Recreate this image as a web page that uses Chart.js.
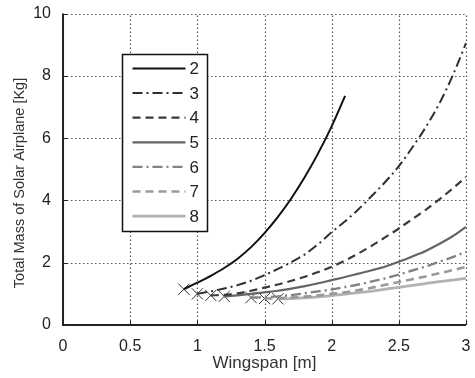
<!DOCTYPE html>
<html>
<head>
<meta charset="utf-8">
<script src="https://cdn.jsdelivr.net/npm/chart.js@4"></script>
<style>
  html, body { margin: 0; padding: 0; background: #fff; }
  #chart { display: block; }
</style>
</head>
<body>
<canvas id="chart" width="475" height="378"></canvas>
<script>
// --- Data ---
const span = [0.9, 1.0, 1.1, 1.2, 1.3, 1.4, 1.5, 1.6, 1.7, 1.8, 1.9, 2.0, 2.1, 2.2, 2.3, 2.4, 2.5, 2.6, 2.7, 2.8, 2.9, 3.0];
const seriesNames = ['2', '3', '4', '5', '6', '7', '8'];

const mass2 = [1.15, 1.36, 1.58, 1.83, 2.13, 2.5, 2.95, 3.47, 4.07, 4.75, 5.52, 6.38, 7.36, null, null, null, null, null, null, null, null, null];
const mass3 = [null, 1.0, 1.08, 1.17, 1.28, 1.42, 1.6, 1.8, 2.02, 2.27, 2.6, 2.98, 3.33, 3.72, 4.15, 4.6, 5.1, 5.7, 6.35, 7.1, 8.0, 9.05];
const mass4 = [null, null, 0.95, 0.97, 1.02, 1.1, 1.2, 1.3, 1.42, 1.55, 1.7, 1.87, 2.07, 2.3, 2.55, 2.82, 3.1, 3.4, 3.7, 4.03, 4.38, 4.75];
const mass5 = [null, null, null, 0.92, 0.95, 1.0, 1.05, 1.1, 1.17, 1.25, 1.34, 1.44, 1.54, 1.65, 1.76, 1.88, 2.03, 2.2, 2.38, 2.6, 2.85, 3.15];
const mass6 = [null, null, null, null, null, 0.88, 0.89, 0.92, 0.96, 1.02, 1.08, 1.14, 1.22, 1.3, 1.4, 1.5, 1.62, 1.75, 1.88, 2.03, 2.18, 2.35];
const mass7 = [null, null, null, null, null, null, 0.85, 0.86, 0.88, 0.91, 0.95, 1.0, 1.05, 1.12, 1.2, 1.29, 1.38, 1.47, 1.56, 1.66, 1.76, 1.87];
const mass8 = [null, null, null, null, null, null, null, 0.84, 0.85, 0.87, 0.9, 0.94, 0.99, 1.04, 1.09, 1.15, 1.21, 1.27, 1.33, 1.39, 1.44, 1.5];

const xTicks = [0, 0.5, 1, 1.5, 2, 2.5, 3];
const yTicks = [0, 2, 4, 6, 8, 10];

// --- Styles ---
const allMass = [mass2, mass3, mass4, mass5, mass6, mass7, mass8];
const lineColors = ['#111111', '#303030', '#3a3a3a', '#656565', '#828282', '#9a9a9a', '#b2b2b2'];
const lineDashes = [[], [10, 4, 2, 4], [8, 5], [], [10, 4, 2, 4], [8, 5], []];
const lineWidths = [2, 2, 2.2, 2.2, 2.4, 2.6, 2.8];

const FONT = 'Liberation Sans, Arial, sans-serif';

function toPoints(values) {
    const pts = [];
    values.forEach((v, i) => {
        if (v !== null) pts.push({ x: span[i], y: v });
    });
    return pts;
}

const datasets = allMass.map((values, i) => ({
    label: seriesNames[i],
    data: toPoints(values),
    borderColor: lineColors[i],
    borderWidth: lineWidths[i],
    borderDash: lineDashes[i],
    pointRadius: 0,
    cubicInterpolationMode: 'monotone',
    fill: false
}));

// X marks at the first point of each curve
datasets.push({
    label: 'start',
    type: 'scatter',
    data: allMass.map(values => toPoints(values)[0]),
    pointStyle: 'crossRot',
    pointRadius: 8,
    borderColor: '#333',
    borderWidth: 1,
    showLine: false
});

// dotted grid, drawn under the curves
const dottedGrid = {
    id: 'dottedGrid',
    beforeDatasetsDraw(chart) {
        const { ctx, chartArea, scales } = chart;
        ctx.save();
        ctx.strokeStyle = '#555';
        ctx.lineWidth = 1.2;
        ctx.setLineDash([1.5, 2.5]);
        xTicks.forEach(v => {
            const px = Math.round(scales.x.getPixelForValue(v)) + 0.5;
            ctx.beginPath();
            ctx.moveTo(px, chartArea.bottom);
            ctx.lineTo(px, chartArea.top);
            ctx.stroke();
        });
        yTicks.forEach(v => {
            const py = Math.round(scales.y.getPixelForValue(v)) + 0.5;
            ctx.beginPath();
            ctx.moveTo(chartArea.left, py);
            ctx.lineTo(chartArea.right, py);
            ctx.stroke();
        });
        ctx.restore();
    }
};

// --- Legend box drawn inside the plot, MATLAB style ---
const boxLegend = {
    id: 'boxLegend',
    afterDatasetsDraw(chart) {
        const ctx = chart.ctx;
        const left = 122.5, top = 54.5, w = 85, h = 177;
        ctx.save();
        ctx.fillStyle = '#fff';
        ctx.fillRect(left, top, w, h);
        ctx.strokeStyle = '#111';
        ctx.lineWidth = 1.5;
        ctx.strokeRect(left, top, w, h);
        ctx.font = '17px ' + FONT;
        ctx.textBaseline = 'middle';
        seriesNames.forEach((name, i) => {
            const y = top + 14 + i * 24.6;
            ctx.beginPath();
            ctx.setLineDash(lineDashes[i]);
            ctx.strokeStyle = lineColors[i];
            ctx.lineWidth = lineWidths[i];
            ctx.moveTo(left + 10, y);
            ctx.lineTo(left + 63, y);
            ctx.stroke();
            ctx.setLineDash([]);
            ctx.fillStyle = '#222';
            ctx.fillText(name, left + 67, y + 1);
        });
        ctx.restore();
    }
};

// inward tick marks, solid axes and the rotated y title
const axesDecor = {
    id: 'axesDecor',
    afterDraw(chart) {
        const { ctx, chartArea, scales } = chart;
        ctx.save();
        ctx.strokeStyle = '#222';
        ctx.lineWidth = 1;
        xTicks.forEach(v => {
            const px = Math.round(scales.x.getPixelForValue(v)) + 0.5;
            ctx.beginPath();
            ctx.moveTo(px, chartArea.bottom);
            ctx.lineTo(px, chartArea.bottom - 4);
            ctx.stroke();
        });
        yTicks.forEach(v => {
            const py = Math.round(scales.y.getPixelForValue(v)) + 0.5;
            ctx.beginPath();
            ctx.moveTo(chartArea.left, py);
            ctx.lineTo(chartArea.left + 4, py);
            ctx.stroke();
        });
        ctx.lineWidth = 2;
        ctx.beginPath();
        ctx.moveTo(chartArea.left, chartArea.top);
        ctx.lineTo(chartArea.left, chartArea.bottom);
        ctx.lineTo(chartArea.right, chartArea.bottom);
        ctx.stroke();

        ctx.translate(20, 183);
        ctx.rotate(-Math.PI / 2);
        ctx.font = '14.5px ' + FONT;
        ctx.fillStyle = '#333';
        ctx.textAlign = 'center';
        ctx.textBaseline = 'middle';
        ctx.fillText('Total Mass of Solar Airplane [Kg]', 0, 0);
        ctx.restore();
    }
};

const ctx = document.getElementById('chart').getContext('2d');
new Chart(ctx, {
    type: 'line',
    data: { datasets },
    options: {
        responsive: false,
        animation: false,
        devicePixelRatio: 1,
        layout: { padding: { top: 13, right: 5, left: 0, bottom: 0 } },
        plugins: {
            legend: { display: false },
            tooltip: { enabled: false }
        },
        scales: {
            x: {
                type: 'linear',
                min: 0,
                max: 3,
                afterBuildTicks: s => { s.ticks = xTicks.map(v => ({ value: v })); },
                afterFit: s => { s.height = 53; },
                ticks: {
                    color: '#222',
                    font: { family: FONT, size: 16 },
                    padding: 4,
                    maxRotation: 0,
                    callback: v => String(v)
                },
                grid: { display: false },
                border: { display: false },
                title: {
                    display: true,
                    text: 'Wingspan [m]',
                    color: '#333',
                    font: { family: FONT, size: 17 },
                    padding: { top: 0, bottom: 4 }
                }
            },
            y: {
                type: 'linear',
                min: 0,
                max: 10,
                afterBuildTicks: s => { s.ticks = yTicks.map(v => ({ value: v })); },
                afterFit: s => { s.width = 63; },
                ticks: {
                    color: '#222',
                    font: { family: FONT, size: 16 },
                    padding: 4,
                    callback: v => String(v)
                },
                grid: { display: false },
                border: { display: false }
            }
        }
    },
    plugins: [dottedGrid, boxLegend, axesDecor]
});
</script>
</body>
</html>
